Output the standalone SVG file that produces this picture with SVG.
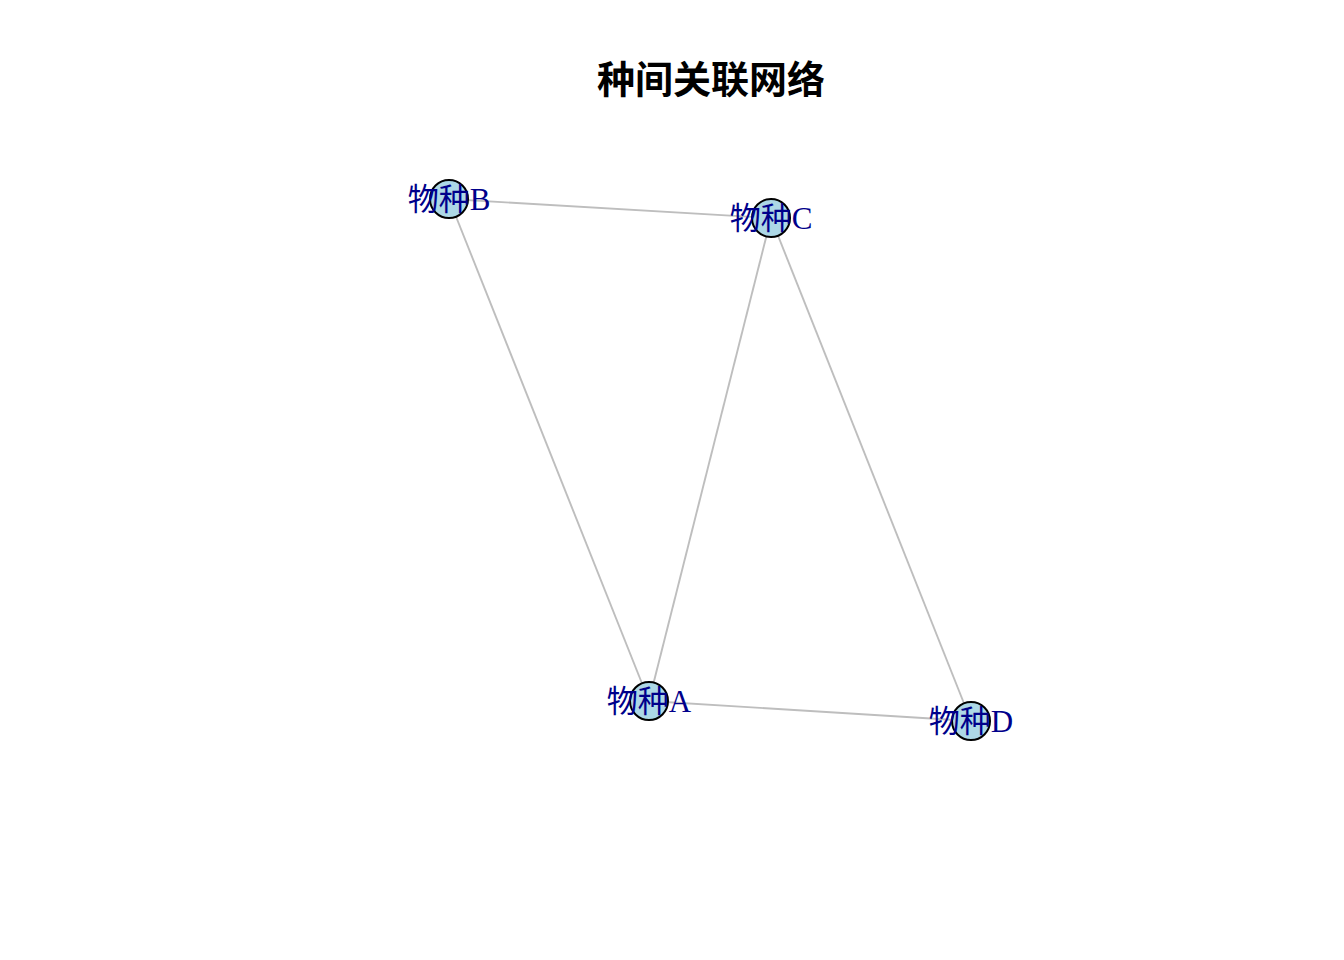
<svg xmlns="http://www.w3.org/2000/svg" width="1344" height="960" viewBox="0 0 1344 960">
<style>
.edge{stroke:#BEBEBE;stroke-width:1.9;fill:none}
.node{fill:#ADD8E6;stroke:#000;stroke-width:2}
.lbl{font-family:"Liberation Serif","Noto Sans CJK SC",serif;font-size:31px;fill:#00008B;text-anchor:middle}
.title{font-family:"Liberation Sans","Noto Sans CJK SC",sans-serif;font-size:38px;font-weight:bold;fill:#000;text-anchor:middle}
</style>
<rect width="1344" height="960" fill="#fff"/>
<text class="title" x="711" y="93">种间关联网络</text>
<g id="edges">
<line class="edge" x1="449" y1="199" x2="771" y2="218"/>
<line class="edge" x1="449" y1="199" x2="649" y2="701"/>
<line class="edge" x1="771" y1="218" x2="649" y2="701"/>
<line class="edge" x1="771" y1="218" x2="971" y2="721"/>
<line class="edge" x1="649" y1="701" x2="971" y2="721"/>
</g>
<g id="nodeB"><circle class="node" cx="449" cy="199" r="19"/><text class="lbl" x="449" y="210">物种B</text></g>
<g id="nodeC"><circle class="node" cx="771" cy="218" r="19"/><text class="lbl" x="771" y="229">物种C</text></g>
<g id="nodeA"><circle class="node" cx="649" cy="701" r="19"/><text class="lbl" x="649" y="712">物种A</text></g>
<g id="nodeD"><circle class="node" cx="971" cy="721" r="19"/><text class="lbl" x="971" y="732">物种D</text></g>
</svg>
